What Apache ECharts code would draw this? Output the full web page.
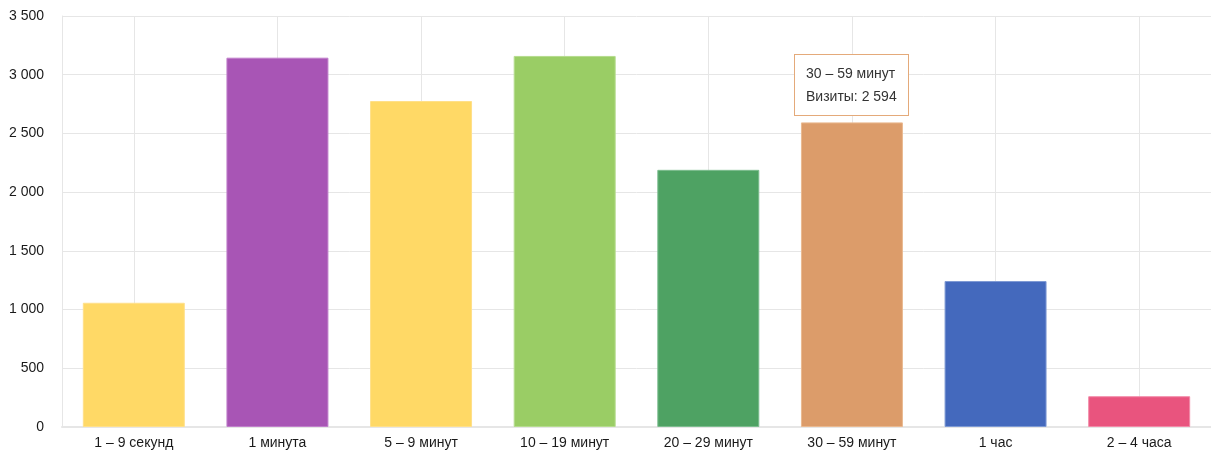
<!DOCTYPE html>
<html>
<head>
<meta charset="utf-8">
<script src="https://cdn.jsdelivr.net/npm/echarts@6/dist/echarts.min.js"></script>
<style>
  html, body { margin: 0; padding: 0; background: #fff; }
  #chart { width: 1211px; height: 455px; }
</style>
</head>
<body>
<div id="chart"></div>
<script>
// data
const categories = ['1 – 9 секунд', '1 минута', '5 – 9 минут', '10 – 19 минут', '20 – 29 минут', '30 – 59 минут', '1 час', '2 – 4 часа'];
const visits = [1058, 3145, 2776, 3160, 2190, 2594, 1243, 262];
const barColors = ['#ffd966', '#a855b5', '#ffd966', '#9acd65', '#4ea263', '#dc9c6a', '#4469bd', '#e9547e'];
const borderColors = ['#ffe08a', '#c07fcb', '#ffe08a', '#b5dc8e', '#7dbd8f', '#eab990', '#7e9ad4', '#f28aa8'];
const seriesName = 'Визиты';
const highlightIndex = 5;

const fmt = v => String(v).replace(/\B(?=(\d{3})+(?!\d))/g, ' ');
const font = 'Liberation Sans, Arial, sans-serif';

const chart = echarts.init(document.getElementById('chart'));
chart.setOption({
  animation: false,
  textStyle: { fontFamily: font },
  grid: { left: 62, right: 0, top: 16, bottom: 28 },
  tooltip: {
    trigger: 'item',
    alwaysShowContent: true,
    backgroundColor: '#fff',
    borderColor: '#e4aa7a',
    borderWidth: 1,
    padding: [7, 11],
    extraCssText: 'box-shadow:none;border-radius:0;line-height:23px;',
    textStyle: { color: '#333', fontSize: 14, fontFamily: font },
    transitionDuration: 0,
    formatter: p => p.name + '<br/>' + seriesName + ': ' + fmt(p.value),
    position: function (point, params, dom, rect, size) {
      const px = chart.convertToPixel({ seriesIndex: 0 }, [params.dataIndex, params.value]);
      return [px[0] - size.contentSize[0] / 2, px[1] - size.contentSize[1] - 6];
    }
  },
  xAxis: {
    type: 'category',
    data: categories,
    axisLine: { lineStyle: { color: '#e6e6e6', width: 2 } },
    axisTick: { show: false },
    axisLabel: { color: '#1a1a1a', fontSize: 14, margin: 9 },
    splitLine: { show: true, alignWithLabel: true, lineStyle: { color: '#e6e6e6', width: 1 } }
  },
  yAxis: {
    type: 'value',
    min: 0,
    max: 3500,
    interval: 500,
    axisLine: { show: true, lineStyle: { color: '#e6e6e6', width: 1 } },
    axisTick: { show: false },
    axisLabel: { color: '#1a1a1a', fontSize: 14, margin: 18, formatter: v => fmt(v) },
    splitLine: { lineStyle: { color: '#e6e6e6', width: 1 } }
  },
  series: [{
    name: seriesName,
    type: 'bar',
    barCategoryGap: '29%',
    data: visits.map((v, i) => ({
      value: v,
      itemStyle: { color: barColors[i], borderColor: borderColors[i], borderWidth: 1 }
    })),
    emphasis: { disabled: true }
  }]
});

chart.dispatchAction({ type: 'showTip', seriesIndex: 0, dataIndex: highlightIndex });
</script>
</body>
</html>
